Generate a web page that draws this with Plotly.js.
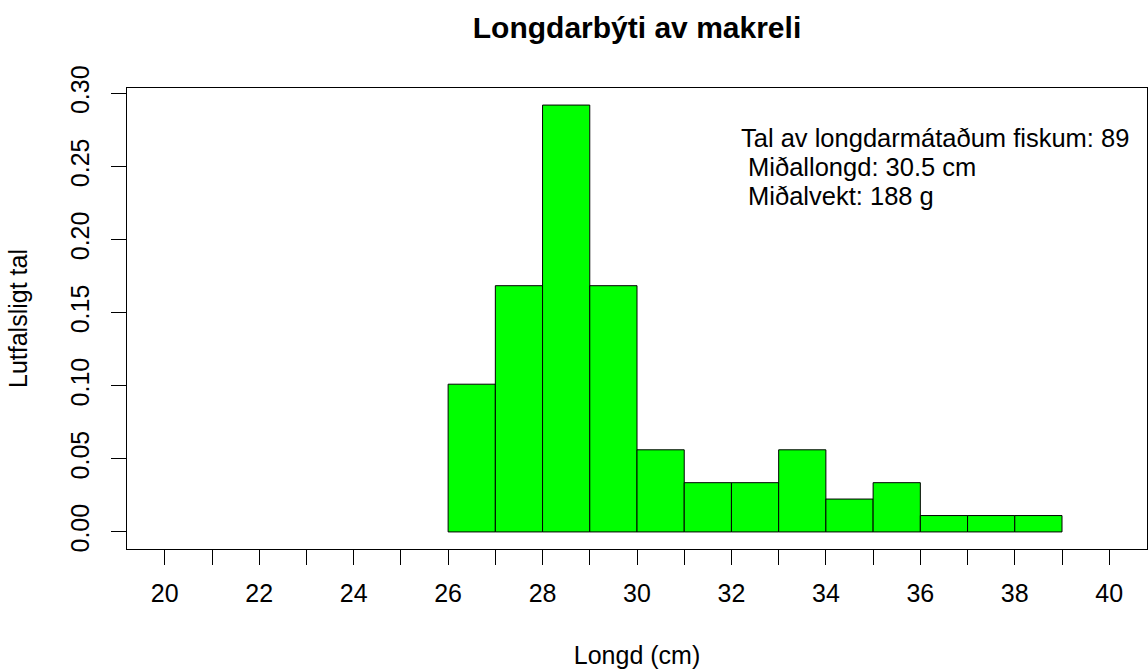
<!DOCTYPE html>
<html>
<head>
<meta charset="utf-8">
<script src="https://cdn.plot.ly/plotly-3.0.1.min.js"></script>
<style>
  html, body { margin: 0; padding: 0; background: #ffffff; }
  #chart { width: 1148px; height: 672px; }
</style>
</head>
<body>
<div id="chart"></div>
<script>
// Histogram bins (length, cm) and relative frequencies
const binStarts = [26, 27, 28, 29, 30, 31, 32, 33, 34, 35, 36, 37, 38];
const binWidth = 1;
const counts = [9, 15, 26, 15, 5, 3, 3, 5, 2, 3, 1, 1, 1];
const totalFish = 89;
const proportions = [0.1011, 0.1685, 0.2921, 0.1685, 0.0562, 0.0337, 0.0337, 0.0562, 0.0225, 0.0337, 0.0112, 0.0112, 0.0112];

const xTickVals = [20, 21, 22, 23, 24, 25, 26, 27, 28, 29, 30, 31, 32, 33, 34, 35, 36, 37, 38, 39, 40];
const xTickText = ['20', '', '22', '', '24', '', '26', '', '28', '', '30', '', '32', '', '34', '', '36', '', '38', '', '40'];
const yTickVals = [0, 0.05, 0.10, 0.15, 0.20, 0.25, 0.30];
const yTickText = ['0.00', '0.05', '0.10', '0.15', '0.20', '0.25', '0.30'];

const infoLines = [
  'Tal av longdarmátaðum fiskum: 89',
  '\u00a0Miðallongd: 30.5 cm',
  '\u00a0Miðalvekt: 188 g'
];

const titleText = 'Longdarbýti av makreli';
const xTitle = 'Longd (cm)';
const yTitle = 'Lutfalsligt tal';

const FONT = '"Liberation Sans", Arial, Helvetica, sans-serif';
const FS = 25;

const trace = {
  type: 'bar',
  x: binStarts.map(s => s + binWidth / 2),
  y: proportions,
  width: binStarts.map(() => binWidth),
  marker: { color: '#00ff00', line: { color: '#000000', width: 1 } },
  hoverinfo: 'x+y',
  showlegend: false
};

const xMin = 20, xMax = 40;
const xPad = (xMax - xMin) * 0.04;
const yMax = Math.max(...proportions);
const yPad = yMax * 0.04;

const annY = [0.2697, 0.2495, 0.2300];
const annotations = infoLines.map((t, i) => ({
  text: t,
  x: 32.15,
  y: annY[i],
  xref: 'x', yref: 'y',
  xanchor: 'left', yanchor: 'middle',
  showarrow: false,
  font: { family: FONT, size: 25.5, color: '#000000' }
}));

const layout = {
  width: 1148,
  height: 672,
  margin: { l: 127, r: 1, t: 88, b: 123, pad: 0 },
  paper_bgcolor: '#ffffff',
  plot_bgcolor: '#ffffff',
  font: { family: FONT, size: FS, color: '#000000' },
  bargap: 0,
  title: {
    text: '<b>' + titleText + '</b>',
    font: { family: FONT, size: 30, color: '#000000' },
    x: 0.5, xanchor: 'center', xref: 'paper',
    y: 1 - 27.5 / 672, yanchor: 'middle', yref: 'container'
  },
  xaxis: {
    range: [xMin - xPad, xMax + xPad],
    tickmode: 'array',
    tickvals: xTickVals,
    ticktext: xTickText,
    ticks: 'outside',
    ticklen: 15,
    tickwidth: 1,
    tickcolor: '#000000',
    showline: true,
    linecolor: '#000000',
    linewidth: 1,
    mirror: true,
    showgrid: false,
    zeroline: false,
    ticklabelstandoff: 7,
    tickfont: { family: FONT, size: FS, color: '#000000' },
    title: { text: xTitle, standoff: 40, font: { family: FONT, size: FS, color: '#000000' } }
  },
  yaxis: {
    range: [-yPad, yMax + yPad],
    tickmode: 'array',
    tickvals: yTickVals,
    ticktext: yTickText,
    tickangle: -90,
    ticks: 'outside',
    ticklen: 15,
    tickwidth: 1,
    tickcolor: '#000000',
    showline: true,
    linecolor: '#000000',
    linewidth: 1,
    mirror: true,
    showgrid: false,
    zeroline: false,
    ticklabelstandoff: 12,
    tickfont: { family: FONT, size: FS, color: '#000000' },
    title: { text: yTitle, standoff: 31, font: { family: FONT, size: FS, color: '#000000' } }
  },
  annotations: annotations
};

Plotly.newPlot('chart', [trace], layout, { displayModeBar: false, staticPlot: true });
</script>
</body>
</html>
